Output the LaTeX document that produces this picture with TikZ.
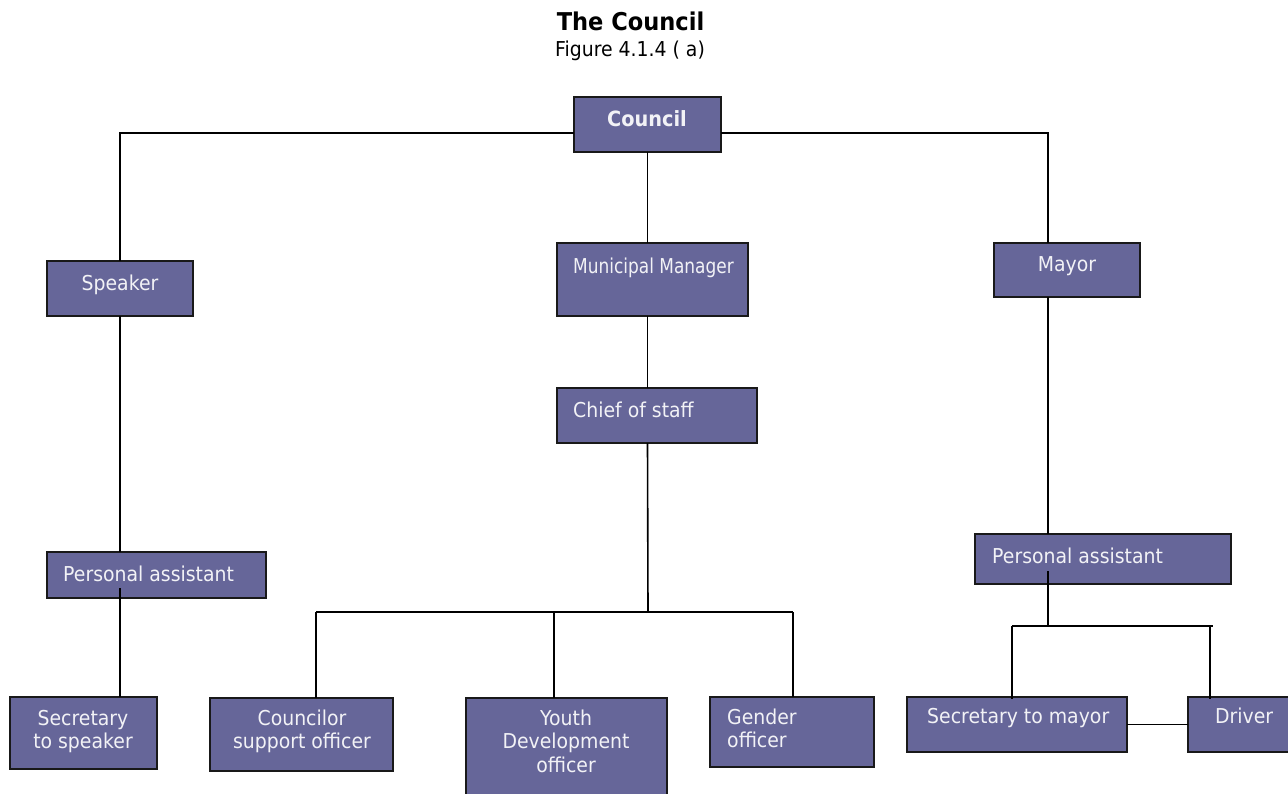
\documentclass[tikz,border=0pt]{standalone}
\usepackage{graphicx}
\usepackage{fontspec}
\setmainfont{DejaVu Sans}[FakeStretch=0.92]
\definecolor{boxfill}{RGB}{102,102,153}
\definecolor{labelwhite}{RGB}{242,242,246}
% an org-chart box given by its corners (x1,y1) and (x2,y2)
\newcommand{\orgbox}[5]{%
  \node[box, minimum width={(#4-#2)*1pt}, minimum height={(#5-#3)*1pt}]
    (#1) at ({(#2+#4)/2},{(#3+#5)/2}) {};}
\begin{document}
\begin{tikzpicture}[x=1pt,y=-1pt,
  box/.style={draw=black!90, line width=1.6pt, fill=boxfill, inner sep=0pt, outer sep=0pt},
  lbl/.style={text=labelwhite, font=\fontsize{20.5}{23.5}\selectfont, inner sep=0pt, anchor=base},
  lblw/.style={lbl, anchor=base west, align=left},
  wire/.style={draw=black, line width=1.6pt},
  heading/.style={inner sep=0pt, anchor=base}]
\useasboundingbox (0,0) rectangle (1288,793);
\clip (0,0) rectangle (1288,793);

% headings
\node[heading, font=\fontsize{24.5}{28}\selectfont\bfseries] (title) at (630.5,30.5) {The Council};
\node[heading, font=\fontsize{20.5}{24}\selectfont] (figno) at (630,56) {Figure 4.1.4 ( a)};

% boxes
\orgbox{council}{574}{97}{721}{152}
\orgbox{speaker}{47}{261}{193}{316}
\orgbox{mm}{557}{243}{748}{316}
\orgbox{chief}{557}{388}{757}{443}
\orgbox{mayor}{994}{243}{1140}{297}
\orgbox{paL}{47}{552}{266}{598}
\orgbox{paR}{975}{534}{1231}{584}
\orgbox{secS}{10}{697}{157}{769}
\orgbox{cso}{210}{698}{393}{771}
\orgbox{youth}{466}{698}{667}{800}
\orgbox{gender}{710}{697}{874}{767}
\orgbox{secM}{907}{697}{1127}{752}
\orgbox{driver}{1188}{697}{1300}{752}

% labels (multi-line labels sit on the baseline of their last line)
\node[lbl, font=\fontsize{21}{24}\selectfont\bfseries] (tCouncil) at (647,126) {Council};
\node[lbl] (tSpeaker) at (120,290) {Speaker};
\node[lblw] (tMM) at (573,273) {\scalebox{0.9}[1]{Municipal Manager}};
\node[lblw] (tChief) at (573,417) {Chief of staff};
\node[lbl] (tMayor) at (1067,271) {Mayor};
\node[lblw] (tPaL) at (63,581) {Personal assistant};
\node[lblw] (tPaR) at (992,563) {Personal assistant};
\node[lbl, align=center] (tSecS) at (83,748.5) {Secretary\\to speaker};
\node[lbl, align=center] (tCso) at (302,748.5) {Councilor\\support officer};
\node[lbl, align=center] (tYouth) at (566,772) {Youth\\Development\\officer};
\node[lblw] (tGender) at (727,747.5) {Gender\\officer};
\node[lblw] (tSecM) at (927,723) {Secretary to mayor};
\node[lblw] (tDriver) at (1215,723) {Driver};

% junction points
\coordinate (topbar) at (0,133);
\coordinate (mayorLine) at (1048,0);
\coordinate (hub) at (648,612);
\coordinate (csoDrop) at (316,612);
\coordinate (youthDrop) at (554,612);
\coordinate (genderDrop) at (793,612);
\coordinate (stubL) at (120,588);
\coordinate (stubR) at (1048,571);
\coordinate (splitR) at (1048,626);
\coordinate (secMDrop) at (1012,626);
\coordinate (driverDrop) at (1210,626);

% connectors
\draw[wire] (council.west |- topbar) -| (speaker.north);
\draw[wire] (council.east |- topbar) -| (mayorLine |- mayor.north);
\draw[wire] (council.south) -- (council.south |- mm.north);
\draw[wire] (council.south |- mm.south) -- (council.south |- chief.north);
\draw[wire] (council.south |- chief.south) -- (hub);
\draw[wire] (csoDrop) -- (genderDrop);
\draw[wire] (csoDrop) -- (csoDrop |- cso.north);
\draw[wire] (youthDrop) -- (youthDrop |- youth.north);
\draw[wire] (genderDrop) -- (genderDrop |- gender.north);
\draw[wire] (speaker.south) -- (speaker.south |- paL.north);
\draw[wire] (stubL) -- (stubL |- secS.north);
\draw[wire] (mayorLine |- mayor.south) -- (mayorLine |- paR.north);
\draw[wire] (stubR) -- (splitR);
\draw[wire] (secMDrop) -- ([xshift=3pt]driverDrop);
\draw[wire] (secMDrop) -- ([yshift=-2pt]secMDrop |- secM.north);
\draw[wire] (driverDrop) -- ([yshift=-2pt]driverDrop |- driver.north);
\draw[wire] (secM.east) -- (secM.east -| driver.west);
\end{tikzpicture}
\end{document}
